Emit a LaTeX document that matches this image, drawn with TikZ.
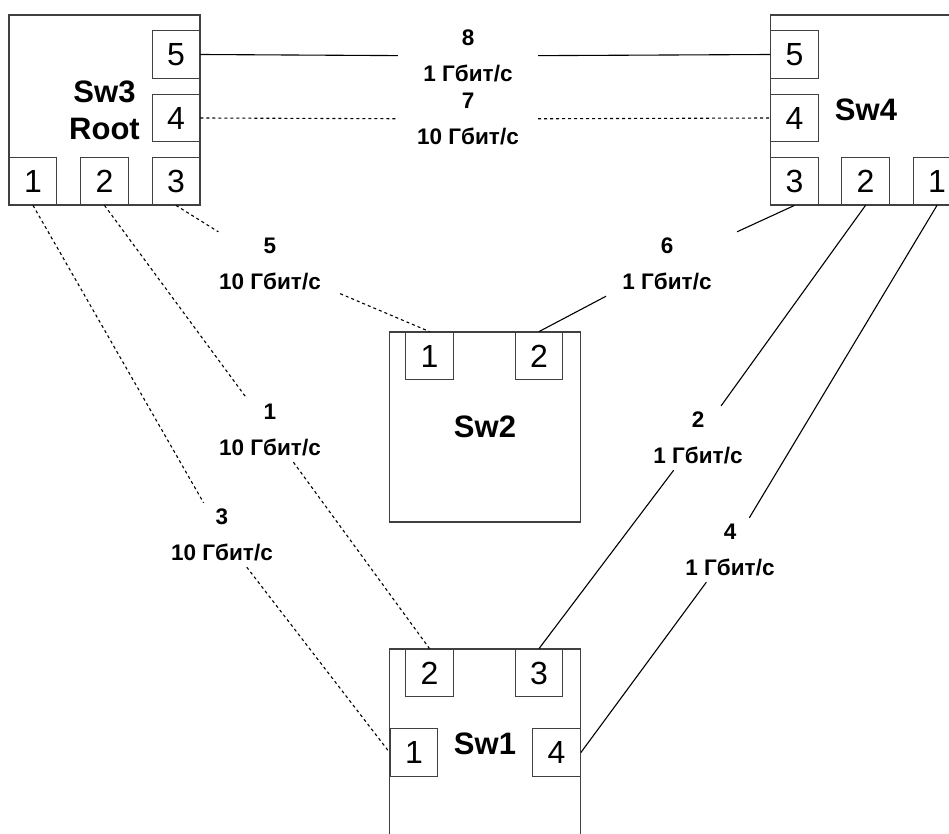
\documentclass[tikz,border=0pt]{standalone}
\usepackage{fontspec}
\setmainfont{Liberation Sans}
\usepackage{tikz}

\tikzset{
    switch/.style={draw=black!75, line width=1.3pt, minimum width=191pt, minimum height=190pt,
        align=center, font=\bfseries\fontsize{31}{37}\selectfont},
    port/.style={draw=black!75, line width=1.3pt, fill=white, minimum size=47.5pt, inner sep=0pt,
        font=\fontsize{32}{36}\selectfont},
    speed/.style={inner sep=0pt, minimum width=140pt, minimum height=64pt, align=center,
        font=\bfseries\fontsize{22.5}{26}\selectfont},
    slowlink/.style={black, line width=1.1pt},
    fastlink/.style={slowlink, dash pattern=on 3pt off 3pt}
}

\begin{document}
\begin{tikzpicture}[x=1pt, y=-1pt]
    % frame
    \fill[white] (0,0) rectangle (949,834);
    \clip (0,0) rectangle (949,834);

    % switches
    \node[switch] (sw3) at (104.5,110) {Sw3\\Root};
    \node[switch] (sw4) at (866,110) {Sw4};
    \node[switch] (sw2) at (485,427) {Sw2};
    \node[switch] (sw1) at (485,744) {Sw1};

    % ports of Sw3
    \node[port] (s3p5) at (176,54.5) {5};
    \node[port] (s3p4) at (176,118) {4};
    \node[port] (s3p1) at (33,181) {1};
    \node[port] (s3p2) at (104.5,181) {2};
    \node[port] (s3p3) at (176,181) {3};

    % ports of Sw4
    \node[port] (s4p5) at (794.5,54.5) {5};
    \node[port] (s4p4) at (794.5,118) {4};
    \node[port] (s4p3) at (794.5,181) {3};
    \node[port] (s4p2) at (865.5,181) {2};
    \node[port] (s4p1) at (937,181) {1};

    % ports of Sw2
    \node[port] (s2p1) at (429.5,356) {1};
    \node[port] (s2p2) at (539,356) {2};

    % ports of Sw1
    \node[port] (s1p2) at (429.5,673) {2};
    \node[port] (s1p3) at (539,673) {3};
    \node[port] (s1p1) at (414,752.5) {1};
    \node[port] (s1p4) at (556.5,752.5) {4};

    % link labels
    \node[speed] (l8) at (468,56) {8\\[10pt]1 Гбит/с};
    \node[speed] (l7) at (468,119) {7\\[10pt]10 Гбит/с};
    \node[speed] (l5) at (270,264) {5\\[10pt]10 Гбит/с};
    \node[speed] (l6) at (667,264) {6\\[10pt]1 Гбит/с};
    \node[speed] (l1) at (270,430) {1\\[10pt]10 Гбит/с};
    \node[speed] (l2) at (698,438) {2\\[10pt]1 Гбит/с};
    \node[speed] (l3) at (222,535) {3\\[10pt]10 Гбит/с};
    \node[speed] (l4) at (730,550) {4\\[10pt]1 Гбит/с};

    % links
    \draw[slowlink] (s3p5.east) -- (l8) -- (s4p5.west);
    \draw[fastlink] (s3p4.east) -- (l7) -- (s4p4.west);
    \draw[fastlink] (s3p3.south) -- (l5) -- (s2p1.north);
    \draw[slowlink] (s4p3.south) -- (l6) -- (s2p2.north);
    \draw[fastlink] (s3p2.south) -- (l1) -- (s1p2.north);
    \draw[slowlink] (s4p2.south) -- (l2) -- (s1p3.north);
    \draw[fastlink] (s3p1.south) -- (l3) -- (s1p1.west);
    \draw[slowlink] (s4p1.south) -- (l4) -- (s1p4.east);
\end{tikzpicture}
\end{document}
